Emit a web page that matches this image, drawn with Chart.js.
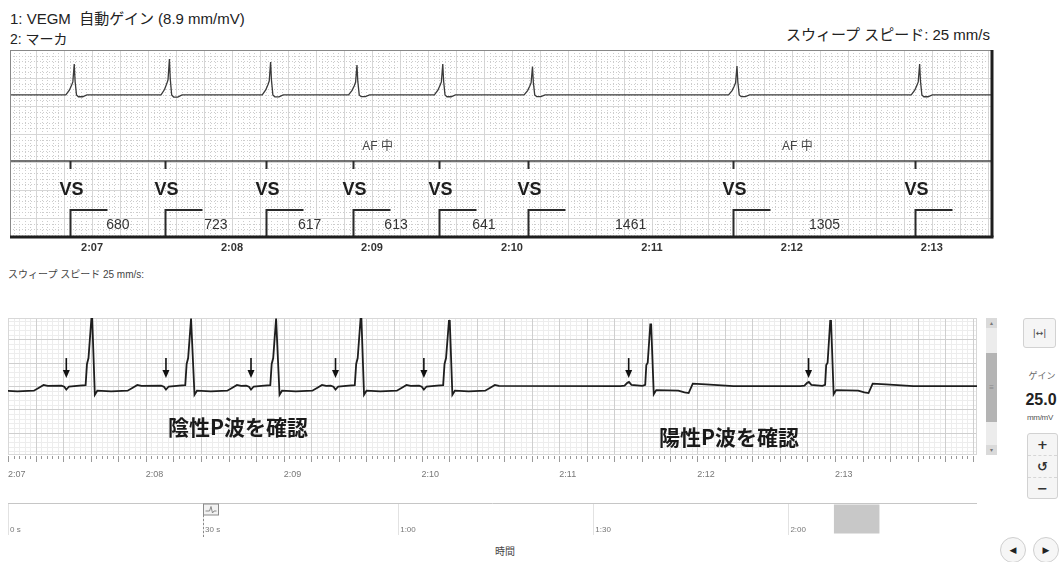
<!DOCTYPE html>
<html lang="ja">
<head>
<meta charset="utf-8">
<title>VEGM / マーカ</title>
<script src="https://cdn.jsdelivr.net/npm/chart.js@4.4.1/dist/chart.umd.min.js"></script>
<style>
  html, body { margin: 0; padding: 0; background: #fff; }
  #wrap { position: relative; width: 1059px; height: 562px; overflow: hidden;
          font-family: 'Liberation Sans', 'Noto Sans CJK JP', sans-serif; color: #222; }
  #wrap canvas, .t, .box { position: absolute; }
  .t { line-height: 1; white-space: nowrap; }
  .note { font-family: 'Noto Sans CJK JP', sans-serif; font-weight: 700; font-size: 21px; color: #1a1a1a; }
  .box { box-sizing: border-box; border: 1px solid #d2d2d2; background: #f5f5f5; border-radius: 3px;
         text-align: center; color: #444; }
  .sb { position: absolute; left: 986px; top: 318px; width: 11px; height: 137px; background: #ececec; }
  .sb div { position: absolute; left: 0; width: 11px; text-align: center; color: #777; }
  .cell { height: 21px; line-height: 21px; font-family: 'DejaVu Sans', sans-serif; font-weight: bold; font-size: 13px; color: #333; }
  .cell + .cell { border-top: 1px dashed #d6d6d6; }
  .nav { position: absolute; top: 537px; width: 26px; height: 26px; border-radius: 50%; box-sizing: border-box;
         border: 1px solid #cfcfcf; background: #f6f6f6; font-family: 'DejaVu Sans', sans-serif; font-size: 9px;
         line-height: 24px; text-align: center; color: #222; }
</style>
</head>
<body>
<div id="wrap">
  <div class="t" style="left:10px;top:11px;font-size:15px;">1: VEGM&nbsp; 自動ゲイン (8.9 mm/mV)</div>
  <div class="t" style="left:10px;top:32px;font-size:14px;">2: マーカ</div>
  <div class="t" style="right:69px;top:27px;font-size:15px;">スウィープ スピード: 25 mm/s</div>
  <canvas id="stripTop" width="1000" height="225" style="left:0;top:40px;"></canvas>

  <div class="t" style="left:8px;top:270px;font-size:10px;color:#444;">スウィープ スピード 25 mm/s:</div>
  <canvas id="stripEcg" width="985" height="185" style="left:0;top:305px;"></canvas>
  <div class="t note" style="left:168px;top:416px;">陰性P波を確認</div>
  <div class="t note" style="left:659px;top:426px;">陽性P波を確認</div>

  <div class="sb">
    <div style="top:0;height:10px;background:#dadada;font-size:6px;line-height:10px;">▴</div>
    <div style="top:35px;height:69px;background:#b4b4b4;font-size:8px;line-height:69px;color:#888;">≡</div>
    <div style="bottom:0;height:10px;background:#dadada;font-size:6px;line-height:10px;">▾</div>
  </div>
  <div class="box" style="left:1023px;top:318px;width:33px;height:30px;line-height:28px;font-family:'DejaVu Sans',sans-serif;font-size:9px;">|↔|</div>
  <div class="t" style="left:1026px;width:32px;text-align:center;top:372px;font-size:9px;color:#666;">ゲイン</div>
  <div class="t" style="left:1022px;width:38px;text-align:center;top:392px;font-size:16px;font-weight:bold;">25.0</div>
  <div class="t" style="left:1020px;width:40px;text-align:center;top:414px;font-size:8px;color:#555;letter-spacing:-0.3px;">mm/mV</div>
  <div class="box" style="left:1027px;top:433px;width:31px;height:66px;">
    <div class="cell">+</div>
    <div class="cell">↺</div>
    <div class="cell">−</div>
  </div>
  <div class="nav" style="left:1000px;">◀</div>
  <div class="nav" style="left:1033px;">▶</div>

  <canvas id="timeline" width="985" height="42" style="left:0;top:495px;"></canvas>
  <div class="t" style="left:495px;top:547px;font-size:10px;color:#444;">時間</div>
</div>

<script>
  const F = "'Liberation Sans', 'Noto Sans CJK JP', sans-serif";

  // 時間軸 (s)
  const topRange = [126.414, 133.43];
  const stripRange = [127.0, 134.03];
  const stripTicks = [127, 128, 129, 130, 131, 132, 133];

  // マーカ チャネル
  const firstSense = 126.843;
  const rrIntervals = [680, 723, 617, 613, 641, 1461, 1305];
  const senseLabels = ['VS', 'VS', 'VS', 'VS', 'VS', 'VS', 'VS', 'VS'];
  const afLabelTimes = [129.04, 132.04];

  // 上段 VEGM: 波高 (mV) と形 [VS からの秒, 波高に対する比]
  const egmPeaks = [0.62, 0.72, 0.66, 0.60, 0.62, 0.57, 0.58, 0.62];
  const egmShape = [[-0.03, 0], [-0.005, 0.15], [0.01, 0.3], [0.02, 0.42], [0.03, 1], [0.036, 0.45],
                    [0.046, 0], [0.06, -0.06], [0.09, -0.06], [0.12, 0]];

  // 下段 ECG: R 波高 (mV), P 波の向き, 形 [R からの秒, mV]
  const ecgPeaks = [0.57, 0.58, 0.58, 0.58, 0.58, 0.56, 0.53, 0.56];
  const pWaveKind = ['neg', 'neg', 'neg', 'neg', 'neg', 'neg', 'pos', 'pos'];
  const ecgDelay = 0.085;
  const pArrowOffset = { neg: -0.185, pos: -0.16 };
  const ecgShapeNeg = [[-0.22, 0.003], [-0.2, -0.006], [-0.185, -0.03], [-0.165, -0.004], [-0.09, 0.004],
                       [-0.045, 0.008], [-0.035, 0.19], [-0.024, 0.24], [-0.003, 'R'], [0.003, 'R'],
                       [0.022, -0.075], [0.04, -0.04], [0.14, -0.045], [0.26, -0.04], [0.3, -0.012],
                       [0.33, 0.01], [0.36, 0.002]];
  const ecgShapePos = [[-0.22, 0], [-0.19, 0.004], [-0.17, 0.028], [-0.158, 0.035], [-0.14, 0.01],
                       [-0.06, 0.002], [-0.04, 0.01], [-0.032, 0.18], [-0.022, 0.2], [-0.003, 'R'],
                       [0.003, 'R'], [0.022, -0.07], [0.04, -0.035], [0.2, -0.04], [0.245, -0.055],
                       [0.275, -0.06], [0.305, 0.02], [0.4, 0.015], [0.6, 0]];

  // タイムライン (s)
  const timelineRange = [0, 149];
  const timelineTicks = [0, 30, 60, 90, 120];
  const viewWindow = [127, 134];
  const eventTimes = [30];

  const fmt = v => Math.floor(v / 60) + ':' + String(Math.round(v % 60)).padStart(2, '0');

  const senseTimes = [firstSense];
  rrIntervals.forEach(ms => senseTimes.push(senseTimes[senseTimes.length - 1] + ms / 1000));

  const egmSeries = [{ x: topRange[0], y: 0 }];
  senseTimes.forEach((t, i) => {
    egmShape.forEach(([dt, f]) => egmSeries.push({ x: t + dt, y: f * egmPeaks[i] }));
  });
  egmSeries.push({ x: topRange[1], y: 0 });

  const ecgSeries = [];
  senseTimes.forEach((t, i) => {
    const r = t + ecgDelay;
    const shape = pWaveKind[i] === 'pos' ? ecgShapePos : ecgShapeNeg;
    shape.forEach(([dt, v]) => ecgSeries.push({ x: r + dt, y: v === 'R' ? ecgPeaks[i] : v }));
  });
  ecgSeries.push({ x: stripRange[1], y: 0 });

  function seg(ctx, x1, y1, x2, y2) {
    ctx.beginPath(); ctx.moveTo(x1, y1); ctx.lineTo(x2, y2); ctx.stroke();
  }

  // 上段: 点線の方眼 + マーカ チャネル + 枠
  const topPaper = {
    id: 'topPaper',
    beforeDatasetsDraw(chart) {
      const { ctx, chartArea: a, scales: { x } } = chart;
      const pitch = x.getPixelForValue(127.04) - x.getPixelForValue(127);
      ctx.save();
      ctx.lineWidth = 1;
      for (let k = Math.ceil(x.min * 25); k <= Math.floor(x.max * 25); k++) {
        const px = Math.round(x.getPixelForValue(k / 25)) + 0.5;
        const major = k % 5 === 0;
        ctx.setLineDash(major ? [] : [1, 2]);
        ctx.strokeStyle = major ? '#d6d6d6' : '#cdcdcd';
        seg(ctx, px, a.top, px, a.bottom);
      }
      for (let j = 1; a.top + j * pitch < a.bottom; j++) {
        const py = Math.round(a.top + j * pitch) + 0.5;
        const major = j % 5 === 0;
        ctx.setLineDash(major ? [] : [1, 2]);
        ctx.strokeStyle = major ? '#d6d6d6' : '#cdcdcd';
        seg(ctx, a.left, py, a.right, py);
      }
      ctx.restore();
    },
    afterDatasetsDraw(chart) {
      const { ctx, chartArea: a, scales: { x } } = chart;
      const sepY = a.top + 111;
      ctx.save();
      ctx.strokeStyle = '#444';
      ctx.lineWidth = 1.5;
      seg(ctx, a.left, sepY, a.right, sepY);

      ctx.textAlign = 'center';
      ctx.textBaseline = 'middle';
      ctx.font = `12px ${F}`;
      ctx.fillStyle = '#444';
      afLabelTimes.forEach(t => ctx.fillText('AF 中', x.getPixelForValue(t), a.top + 97));

      senseTimes.forEach((t, i) => {
        const px = Math.round(x.getPixelForValue(t)) + 0.5;
        ctx.strokeStyle = '#2a2a2a';
        ctx.lineWidth = 2;
        seg(ctx, px, sepY, px, sepY + 8);
        ctx.font = `bold 18px ${F}`;
        ctx.fillStyle = '#1e1e1e';
        ctx.fillText(senseLabels[i], px + 1, a.top + 140);
        ctx.beginPath();
        ctx.moveTo(px, a.bottom);
        ctx.lineTo(px, a.top + 160);
        ctx.lineTo(px + 37, a.top + 160);
        ctx.stroke();
        if (i < rrIntervals.length) {
          const nx = x.getPixelForValue(senseTimes[i + 1]);
          ctx.font = `14px ${F}`;
          ctx.fillStyle = '#333';
          ctx.fillText(String(rrIntervals[i]), (px + nx) / 2, a.top + 175);
        }
      });

      ctx.strokeStyle = '#888';
      ctx.lineWidth = 1;
      ctx.strokeRect(a.left + 0.5, a.top + 0.5, a.right - a.left - 1, a.bottom - a.top);
      ctx.strokeStyle = '#1e1e1e';
      ctx.lineWidth = 3;
      seg(ctx, a.left, a.bottom, a.right + 1.5, a.bottom);
      seg(ctx, a.right, a.top, a.right, a.bottom);
      ctx.restore();
    }
  };

  // 下段: 方眼 + 目盛り + P 波の矢印
  const ecgPaper = {
    id: 'ecgPaper',
    beforeDatasetsDraw(chart) {
      const { ctx, chartArea: a, scales: { x, y } } = chart;
      ctx.save();
      ctx.lineWidth = 1;
      const pass = major => {
        ctx.strokeStyle = major ? '#cfcfcf' : '#ededed';
        for (let k = Math.ceil(x.min * 25); k <= Math.floor(x.max * 25); k++) {
          if ((k % 5 === 0) !== major) continue;
          const px = Math.round(x.getPixelForValue(k / 25)) + 0.5;
          seg(ctx, px, a.top, px, a.bottom);
        }
        for (let k = Math.ceil(y.min * 25); k <= Math.floor(y.max * 25); k++) {
          if ((k % 5 === 0) !== major) continue;
          const py = Math.round(y.getPixelForValue(k / 25)) + 0.5;
          seg(ctx, a.left, py, a.right, py);
        }
      };
      pass(false);
      pass(true);
      ctx.strokeStyle = '#d8d8d8';
      ctx.strokeRect(a.left + 0.5, a.top + 0.5, a.right - a.left - 1, a.bottom - a.top - 1);
      // ルーラー
      ctx.strokeStyle = '#9a9a9a';
      for (let k = Math.ceil(x.min * 25); k <= Math.floor(x.max * 25); k++) {
        const px = Math.round(x.getPixelForValue(k / 25)) + 0.5;
        seg(ctx, px, a.bottom + 1, px, a.bottom + (k % 5 === 0 ? 7 : 4));
      }
      ctx.restore();
    },
    afterDatasetsDraw(chart) {
      const { ctx, scales: { x, y } } = chart;
      ctx.save();
      ctx.strokeStyle = '#111';
      ctx.fillStyle = '#111';
      ctx.lineWidth = 1.6;
      senseTimes.forEach((t, i) => {
        const tp = t + ecgDelay + pArrowOffset[pWaveKind[i]];
        if (tp < x.min || tp > x.max) return;
        const px = x.getPixelForValue(tp);
        const tip = y.getPixelForValue(0.07);
        seg(ctx, px, y.getPixelForValue(0.24), px, tip - 5);
        ctx.beginPath();
        ctx.moveTo(px - 3.5, tip - 8);
        ctx.lineTo(px + 3.5, tip - 8);
        ctx.lineTo(px, tip);
        ctx.closePath();
        ctx.fill();
      });
      ctx.restore();
    }
  };

  // タイムライン: 上の線, ラベル, イベント
  const timelineDeco = {
    id: 'timelineDeco',
    afterDraw(chart) {
      const { ctx, chartArea: a, scales: { x } } = chart;
      ctx.save();
      ctx.strokeStyle = '#c6c6c6';
      ctx.lineWidth = 1;
      seg(ctx, a.left, a.top + 0.5, a.right, a.top + 0.5);
      ctx.font = `8px ${F}`;
      ctx.fillStyle = '#777';
      ctx.textBaseline = 'middle';
      timelineTicks.forEach(v => {
        ctx.fillText(v < 60 ? v + ' s' : fmt(v), x.getPixelForValue(v) + 2, a.top + 27);
      });
      eventTimes.forEach(t => {
        const px = Math.round(x.getPixelForValue(t)) + 0.5;
        ctx.fillStyle = '#f2f2f2';
        ctx.fillRect(px, a.top + 1, 15, 11);
        ctx.strokeStyle = '#8a8a8a';
        ctx.strokeRect(px, a.top + 1, 15, 11);
        ctx.beginPath();
        ctx.moveTo(px + 2, a.top + 8);
        ctx.lineTo(px + 6, a.top + 8);
        ctx.lineTo(px + 7.5, a.top + 3.5);
        ctx.lineTo(px + 9, a.top + 10);
        ctx.lineTo(px + 10.5, a.top + 8);
        ctx.lineTo(px + 13, a.top + 8);
        ctx.stroke();
        ctx.setLineDash([2, 2]);
        seg(ctx, px, a.top + 12, px, a.bottom + 2);
      });
      ctx.restore();
    }
  };

  const quiet = { legend: { display: false }, tooltip: { enabled: false } };

  new Chart(document.getElementById('stripTop'), {
    type: 'line',
    data: {
      datasets: [{ data: egmSeries, borderColor: '#3a3a3a', borderWidth: 1.3, pointRadius: 0, tension: 0 }]
    },
    options: {
      responsive: false,
      animation: false,
      events: [],
      layout: { padding: { left: 10, top: 10, right: 8, bottom: 0 } },
      plugins: quiet,
      scales: {
        x: {
          type: 'linear',
          min: topRange[0],
          max: topRange[1],
          afterBuildTicks: s => { s.ticks = stripTicks.map(v => ({ value: v })); },
          afterFit: s => { s.height = 28; },
          ticks: { callback: v => fmt(v), font: { family: F, size: 11, weight: 'bold' }, color: '#333',
                   padding: 0, maxRotation: 0, autoSkip: false },
          grid: { display: false, drawTicks: true, tickLength: 4 },
          border: { display: false }
        },
        y: { display: false, min: -2.85, max: 0.9 }
      }
    },
    plugins: [topPaper]
  });

  new Chart(document.getElementById('stripEcg'), {
    type: 'line',
    data: {
      datasets: [{ data: ecgSeries, borderColor: '#1e1e1e', borderWidth: 1.8, pointRadius: 0, tension: 0 }]
    },
    options: {
      responsive: false,
      animation: false,
      events: [],
      layout: { padding: { left: 8, top: 13, right: 8, bottom: 0 } },
      plugins: quiet,
      scales: {
        x: {
          type: 'linear',
          min: stripRange[0],
          max: stripRange[1],
          afterBuildTicks: s => { s.ticks = stripTicks.map(v => ({ value: v })); },
          afterFit: s => { s.height = 35; },
          ticks: { callback: v => fmt(v), font: { family: F, size: 9 }, color: '#777', align: 'start',
                   padding: 0, maxRotation: 0, autoSkip: false },
          grid: { display: false, drawTicks: true, tickLength: 14 },
          border: { display: false }
        },
        y: { display: false, min: -0.592, max: 0.584 }
      }
    },
    plugins: [ecgPaper]
  });

  new Chart(document.getElementById('timeline'), {
    type: 'bar',
    data: {
      labels: ['表示範囲'],
      datasets: [{ data: [viewWindow], backgroundColor: '#c8c8c8', borderWidth: 0,
                   barPercentage: 0.9, categoryPercentage: 1 }]
    },
    options: {
      indexAxis: 'y',
      responsive: false,
      animation: false,
      events: [],
      layout: { padding: { left: 8, top: 8, right: 8, bottom: 0 } },
      plugins: quiet,
      scales: {
        x: {
          type: 'linear',
          min: timelineRange[0],
          max: timelineRange[1],
          afterBuildTicks: s => { s.ticks = timelineTicks.map(v => ({ value: v })); },
          afterFit: s => { s.height = 2; },
          ticks: { display: false, padding: 0 },
          grid: { color: '#e2e2e2', drawTicks: false },
          border: { display: false }
        },
        y: { display: false }
      }
    },
    plugins: [timelineDeco]
  });
</script>
</body>
</html>
